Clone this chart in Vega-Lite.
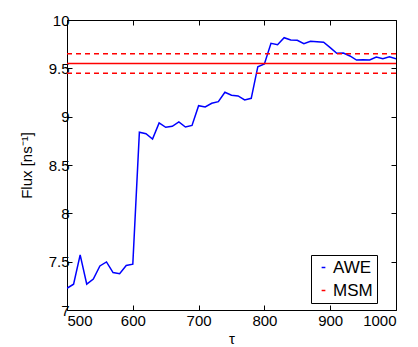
{
  "$schema": "https://vega.github.io/schema/vega-lite/v6.json",
  "width": 329,
  "height": 290,
  "autosize": {"type": "none"},
  "padding": {"left": 67, "top": 20, "right": 22, "bottom": 37},
  "background": "white",
  "config": {
    "view": {"stroke": "black", "strokeWidth": 1},
    "font": "Liberation Sans"
  },
  "datasets": {
    "awe": [
      {"tau": 500, "flux": 7.225}, {"tau": 510, "flux": 7.267}, {"tau": 520, "flux": 7.57},
      {"tau": 530, "flux": 7.267}, {"tau": 540, "flux": 7.32}, {"tau": 550, "flux": 7.456},
      {"tau": 560, "flux": 7.497}, {"tau": 570, "flux": 7.387}, {"tau": 580, "flux": 7.376},
      {"tau": 590, "flux": 7.46}, {"tau": 600, "flux": 7.474}, {"tau": 610, "flux": 8.839},
      {"tau": 620, "flux": 8.824}, {"tau": 630, "flux": 8.769}, {"tau": 640, "flux": 8.935},
      {"tau": 650, "flux": 8.89}, {"tau": 660, "flux": 8.9}, {"tau": 670, "flux": 8.945},
      {"tau": 680, "flux": 8.893}, {"tau": 690, "flux": 8.91}, {"tau": 700, "flux": 9.114},
      {"tau": 710, "flux": 9.1}, {"tau": 720, "flux": 9.138}, {"tau": 730, "flux": 9.155},
      {"tau": 740, "flux": 9.252}, {"tau": 750, "flux": 9.222}, {"tau": 760, "flux": 9.215},
      {"tau": 770, "flux": 9.173}, {"tau": 780, "flux": 9.19}, {"tau": 790, "flux": 9.517},
      {"tau": 800, "flux": 9.545}, {"tau": 810, "flux": 9.759}, {"tau": 820, "flux": 9.745},
      {"tau": 830, "flux": 9.817}, {"tau": 840, "flux": 9.793}, {"tau": 850, "flux": 9.79},
      {"tau": 860, "flux": 9.755}, {"tau": 870, "flux": 9.78}, {"tau": 880, "flux": 9.776},
      {"tau": 890, "flux": 9.77}, {"tau": 900, "flux": 9.714}, {"tau": 910, "flux": 9.655},
      {"tau": 920, "flux": 9.659}, {"tau": 930, "flux": 9.628}, {"tau": 940, "flux": 9.586},
      {"tau": 950, "flux": 9.59}, {"tau": 960, "flux": 9.586}, {"tau": 970, "flux": 9.617},
      {"tau": 980, "flux": 9.6}, {"tau": 990, "flux": 9.62}, {"tau": 1000, "flux": 9.6}
    ],
    "msm": [{"flux": 9.55, "series": "MSM"}],
    "bounds": [{"flux": 9.65}, {"flux": 9.45}]
  },
  "resolve": {"axis": {"x": "independent", "y": "independent"}},
  "layer": [
    {
      "data": {"name": "awe"},
      "transform": [{"calculate": "'AWE'", "as": "series"}],
      "mark": {"type": "line", "strokeWidth": 1.5, "clip": true},
      "encoding": {
        "x": {"field": "tau", "type": "quantitative", "scale": {"domain": [500, 1000], "nice": false},
          "axis": {"orient": "bottom", "values": [500, 600, 700, 800, 900, 1000], "format": "d", "title": "τ",
            "labelFont": "Liberation Sans", "labelFontSize": 15, "labelColor": "black",
            "titleFont": "Liberation Sans", "titleFontSize": 15, "titleFontWeight": "normal", "titleColor": "black",
            "domain": false, "grid": false, "tickColor": "black", "tickSize": -5, "labelPadding": 8, "titlePadding": 3}},
        "y": {"field": "flux", "type": "quantitative", "scale": {"domain": [7, 10], "nice": false, "zero": false},
          "axis": {"orient": "left", "values": [7, 7.5, 8, 8.5, 9, 9.5, 10], "format": "~g", "title": "Flux [ns⁻¹]",
            "labelFont": "Liberation Sans", "labelFontSize": 15, "labelColor": "black",
            "titleFont": "Liberation Sans", "titleFontSize": 15, "titleFontWeight": "normal", "titleColor": "black",
            "domain": false, "grid": false, "tickColor": "black", "tickSize": -5, "labelPadding": 3, "titlePadding": 14}},
        "color": {"field": "series", "type": "nominal",
          "scale": {"domain": ["AWE", "MSM"], "range": ["#0000ff", "#ff0000"]},
          "legend": {"title": null, "orient": "none", "legendX": 244, "legendY": 235,
            "symbolType": "stroke", "symbolSize": 14, "symbolStrokeWidth": 1.5,
            "labelFontSize": 17, "labelFont": "Liberation Sans", "labelColor": "black",
            "fillColor": "white", "strokeColor": "black", "padding": 4, "rowPadding": 5, "labelOffset": 1}}
      }
    },
    {
      "data": {"name": "msm"},
      "mark": {"type": "rule", "strokeWidth": 1.5},
      "encoding": {
        "y": {"field": "flux", "type": "quantitative", "axis": null},
        "color": {"field": "series", "type": "nominal"}
      }
    },
    {
      "data": {"name": "bounds"},
      "mark": {"type": "rule", "strokeWidth": 1.5, "color": "#ff0000", "strokeDash": [5, 4]},
      "encoding": {
        "y": {"field": "flux", "type": "quantitative", "axis": null}
      }
    },
    {
      "data": {"name": "awe"},
      "mark": {"type": "point", "opacity": 0},
      "encoding": {
        "x": {"field": "tau", "type": "quantitative", "axis": {"orient": "top", "values": [500, 600, 700, 800, 900, 1000], "labels": false, "title": null,
          "domain": false, "grid": false, "tickColor": "black", "tickSize": -5}},
        "y": {"field": "flux", "type": "quantitative", "axis": {"orient": "right", "values": [7, 7.5, 8, 8.5, 9, 9.5, 10], "labels": false, "title": null,
          "domain": false, "grid": false, "tickColor": "black", "tickSize": -5}}
      }
    }
  ]
}
